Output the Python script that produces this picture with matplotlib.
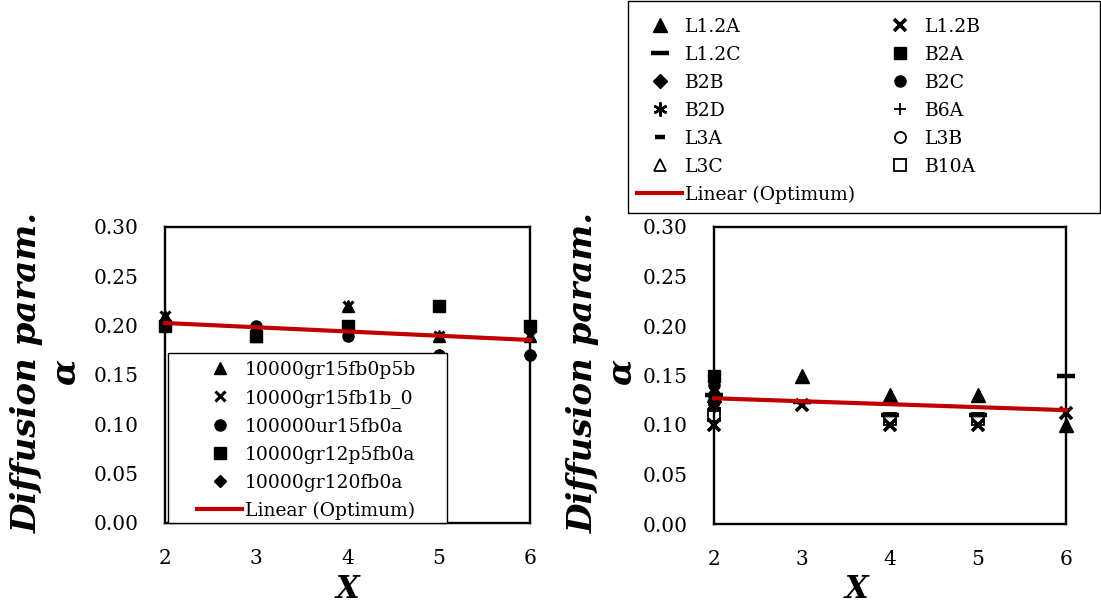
import numpy as np
import matplotlib
matplotlib.use("Agg")
import matplotlib.pyplot as plt
from matplotlib.patches import Rectangle

nan = np.nan
# ---------------- data ----------------
x_vals = [2, 3, 4, 5, 6]

# left panel
left_names = ["10000gr15fb0p5b", "10000gr15fb1b_0", "100000ur15fb0a",
              "10000gr12p5fb0a", "10000gr120fb0a"]
left_s1 = [0.21, 0.19, 0.22, 0.19, 0.19]
left_s2 = [0.21, 0.19, 0.22, 0.19, 0.19]
left_s3 = [0.20, 0.20, 0.19, 0.17, 0.17]
left_s4 = [0.20, 0.19, 0.20, 0.22, 0.20]
left_s5 = [0.20, 0.19, 0.165, 0.17, 0.17]
left_opt_x = [2, 6]
left_opt_y = [0.2027, 0.1855]

# right panel
right_names = ["L1.2A", "L1.2B", "L1.2C", "B2A", "B2B", "B2C", "B2D",
               "B6A", "L3A", "L3B", "L3C", "B10A"]
r_L12A = [0.13, 0.15, 0.13, 0.13, 0.10]
r_L12B = [0.10, 0.12, 0.10, 0.10, 0.112]
r_L12C = [0.13, 0.123, 0.11, 0.11, 0.15]
r_B2A = [0.15, nan, nan, nan, nan]
r_B2B = [0.13, nan, nan, nan, nan]
r_B2C = [0.14, nan, nan, nan, nan]
r_B2D = [0.12, nan, nan, nan, nan]
r_B6A = [0.12, nan, nan, nan, nan]
r_L3A = [0.12, 0.123, 0.11, 0.11, nan]
r_L3B = [0.13, nan, nan, nan, nan]
r_L3C = [0.12, nan, nan, nan, nan]
r_B10A = [0.11, nan, 0.106, 0.106, nan]
right_opt_x = [2, 6]
right_opt_y = [0.127, 0.115]

y_ticks = [0.00, 0.05, 0.10, 0.15, 0.20, 0.25, 0.30]
x_ticks = [2, 3, 4, 5, 6]

# ---------------- styling ----------------
W, H = 1101, 608
fig = plt.figure(figsize=(W / 100, H / 100), dpi=100)
TICKFONT = dict(family="DejaVu Serif", size=14.5)
LEGFONT = {"family": "DejaVu Serif", "size": 13.5}
RED = "#C00000"


def px(x0, y0, x1, y1):
    return [x0 / W, 1 - y1 / H, (x1 - x0) / W, (y1 - y0) / H]


def style_axes(ax):
    ax.set_xlim(2, 6)
    ax.set_ylim(0, 0.30)
    ax.set_xticks(x_ticks)
    ax.set_yticks(y_ticks)
    ax.set_yticklabels([f"{v:.2f}" for v in y_ticks], **TICKFONT)
    ax.set_xticklabels([str(v) for v in x_ticks], **TICKFONT)
    ax.tick_params(axis="y", length=0, pad=19)
    ax.tick_params(axis="x", length=0, pad=19)
    for s in ax.spines.values():
        s.set_linewidth(1.7)
        s.set_color("black")


LEG_KW = dict(frameon=False, prop=LEGFONT, handlelength=2.4,
              handletextpad=0.15, labelspacing=0.53, borderpad=0,
              borderaxespad=0)

# ---------- left ----------
axL = fig.add_axes(px(165, 227, 530, 523))
style_axes(axL)
left_series = [left_s1, left_s2, left_s3, left_s4, left_s5]
left_styles = [
    dict(marker="^", ms=9, color="black"),
    dict(marker="x", ms=7, mew=2.2, color="black"),
    dict(marker="o", ms=8, color="black"),
    dict(marker="s", ms=8, color="black"),
    dict(marker="D", ms=6, color="black"),
]
handlesL = []
for name, vals, st in zip(left_names, left_series, left_styles):
    h, = axL.plot(x_vals, vals, linestyle="none", clip_on=False, zorder=3,
                  label=name, **st)
    handlesL.append(h)
hl, = axL.plot(left_opt_x, left_opt_y, color=RED, lw=3, zorder=4,
               label="Linear (Optimum)", clip_on=False)
handlesL.append(hl)

axL.add_patch(Rectangle(((168 - 165) / 365, 0), (447 - 168) / 365,
                        (523 - 353) / 296, transform=axL.transAxes,
                        facecolor="white", edgecolor="black", lw=1.0,
                        zorder=5, clip_on=False))
legL = axL.legend(handles=handlesL, loc="upper left",
                  bbox_to_anchor=(197 / W, 1 - 361 / H),
                  bbox_transform=fig.transFigure, **LEG_KW)
legL.set_zorder(6)

# ---------- right ----------
axR = fig.add_axes(px(714, 227, 1066, 524))
style_axes(axR)
right_series = [r_L12A, r_L12B, r_L12C, r_B2A, r_B2B, r_B2C, r_B2D,
                r_B6A, r_L3A, r_L3B, r_L3C, r_B10A]
right_styles = [
    dict(marker="^", ms=10, color="black"),
    dict(marker="x", ms=9, mew=2.6, color="black"),
    dict(marker="_", ms=13, mew=3.2, color="black"),
    dict(marker="s", ms=9, color="black"),
    dict(marker="D", ms=7, color="black"),
    dict(marker="o", ms=8, color="black"),
    dict(marker=(6, 2, 0), ms=10, mew=1.8, color="black"),
    dict(marker="+", ms=9, mew=1.3, color="black"),
    dict(marker="_", ms=7, mew=3.2, color="black"),
    dict(marker="o", ms=8, mfc="none", mew=1.3, color="black"),
    dict(marker="^", ms=9, mfc="none", mew=1.3, color="black"),
    dict(marker="s", ms=8, mfc="none", mew=1.3, color="black"),
]
handlesR = []
for name, vals, st in zip(right_names, right_series, right_styles):
    h, = axR.plot(x_vals, vals, linestyle="none", clip_on=False, zorder=3,
                  label=name, **st)
    handlesR.append(h)
hr, = axR.plot(right_opt_x, right_opt_y, color=RED, lw=3, zorder=4,
               label="Linear (Optimum)", clip_on=False)

# legend ordering: row-major as in reference
col1 = [handlesR[i] for i in (0, 2, 4, 6, 8, 10)] + [hr]
col2 = [handlesR[i] for i in (1, 3, 5, 7, 9, 11)]
fig.patches.append(Rectangle((628 / W, 1 - 213 / H), (1100 - 628) / W,
                             (213 - 1) / H, transform=fig.transFigure,
                             facecolor="white", edgecolor="black", lw=1.0,
                             zorder=1))
legR = fig.legend(handles=col1 + col2, ncol=2, loc="upper left",
                  bbox_to_anchor=(637 / W, 1 - 18 / H),
                  bbox_transform=fig.transFigure, columnspacing=1.2,
                  **LEG_KW)

# ---------- axis titles ----------
YFONT = dict(family="DejaVu Serif", size=24.5, weight="bold", style="italic")
XFONT = dict(family="DejaVu Serif", size=22, weight="bold", style="italic")
fig.text(46 / W, 1 - 372 / H, "Diffusion param.\n\u03b1", rotation=90,
         ha="center", va="center", multialignment="center",
         linespacing=1.2, **YFONT)
fig.text(602 / W, 1 - 372 / H, "Diffusion param.\n\u03b1", rotation=90,
         ha="center", va="center", multialignment="center",
         linespacing=1.2, **YFONT)
fig.text(347 / W, 1 - 590 / H, "X", ha="center", va="center", **XFONT)
fig.text(856 / W, 1 - 590 / H, "X", ha="center", va="center", **XFONT)

fig.savefig("out.png", dpi=100)
